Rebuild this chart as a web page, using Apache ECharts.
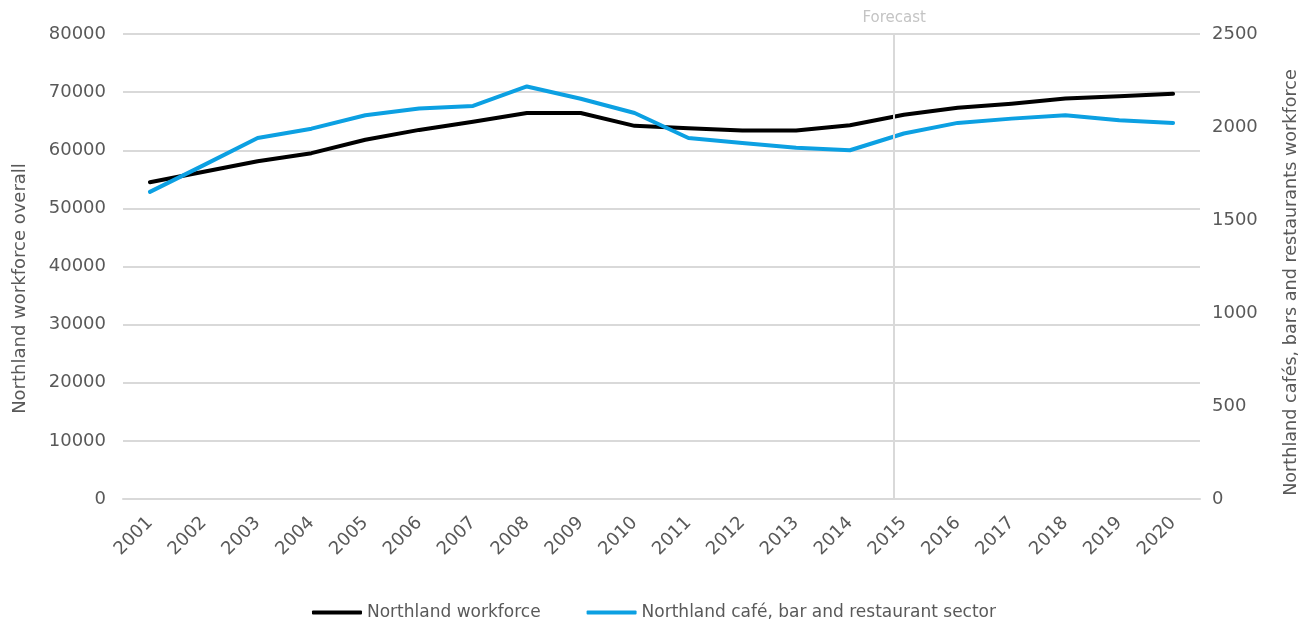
<!DOCTYPE html>
<html>
<head>
<meta charset="utf-8">
<title>Northland workforce</title>
<script src="https://cdn.jsdelivr.net/npm/echarts@6/dist/echarts.min.js"></script>
<style>
  html, body { margin: 0; padding: 0; background: #ffffff; }
  #chart { width: 1308px; height: 622px; }
</style>
</head>
<body>
<div id="chart"></div>
<script>
// Years shown on the category axis
const years = ['2001','2002','2003','2004','2005','2006','2007','2008','2009','2010',
               '2011','2012','2013','2014','2015','2016','2017','2018','2019','2020'];

// Total Northland workforce (left axis)
const workforce = [54500, 56300, 58100, 59500, 61800, 63500, 64900, 66400, 66400, 64200,
                   63800, 63400, 63400, 64300, 66100, 67300, 68000, 68900, 69300, 69700];

// Café, bar and restaurant sector workforce (right axis)
const hospitality = [1651, 1795, 1941, 1991, 2063, 2099, 2113, 2218, 2152, 2075,
                     1941, 1914, 1889, 1875, 1965, 2022, 2045, 2063, 2036, 2022];

// Position of the forecast divider along the year axis (in category units, 0 = left edge)
const forecastStart = 14.32;
const forecastLabel = 'Forecast';

const FONT = '"DejaVu Sans", "Open Sans", sans-serif';
const TEXT = '#595959';
const GRID = '#d9d9d9';

const plain = v => String(v);

const chart = echarts.init(document.getElementById('chart'), null, { renderer: 'canvas' });

chart.setOption({
  animation: false,
  textStyle: { fontFamily: FONT, color: TEXT },
  grid: { left: 123, right: 107, top: 34, bottom: 123, containLabel: false },
  legend: {
    top: 604,
    left: 'center',
    padding: [0, 5],
    itemWidth: 50,
    itemHeight: 4,
    itemGap: 46,
    icon: 'roundRect',
    textStyle: { fontFamily: FONT, fontSize: 17, color: TEXT },
    data: ['Northland workforce', 'Northland café, bar and restaurant sector']
  },
  xAxis: [
    {
      type: 'category',
      data: years,
      boundaryGap: true,
      axisLine: { show: true, lineStyle: { color: GRID, width: 2 } },
      axisTick: { show: false },
      axisLabel: { rotate: 45, fontSize: 18, color: TEXT, fontFamily: FONT, margin: 21, interval: 0 }
    },
    {
      type: 'value',
      min: 0,
      max: years.length,
      show: false
    }
  ],
  yAxis: [
    {
      type: 'value',
      min: 0, max: 80000, interval: 10000,
      name: 'Northland workforce overall',
      nameLocation: 'middle',
      nameGap: 94,
      nameRotate: 90,
      nameTextStyle: { fontSize: 18, color: TEXT, fontFamily: FONT, padding: [0, 44, 0, 0] },
      axisLine: { show: false },
      axisTick: { show: false },
      axisLabel: { fontSize: 18, color: TEXT, fontFamily: FONT, margin: 17, formatter: plain },
      splitLine: { show: true, lineStyle: { color: GRID, width: 2 } }
    },
    {
      type: 'value',
      min: 0, max: 2500, interval: 500,
      position: 'right',
      name: 'Northland cafés, bars and restaurants workforce',
      nameLocation: 'middle',
      nameGap: 82,
      nameRotate: 90,
      nameTextStyle: { fontSize: 17.6, color: TEXT, fontFamily: FONT, padding: [0, 32, 0, 0] },
      axisLine: { show: false },
      axisTick: { show: false },
      axisLabel: { fontSize: 18, color: TEXT, fontFamily: FONT, margin: 12, formatter: plain },
      splitLine: { show: false }
    }
  ],
  series: [
    {
      name: 'Northland workforce',
      type: 'line',
      xAxisIndex: 0,
      yAxisIndex: 0,
      data: workforce,
      symbol: 'none',
      lineStyle: { color: '#000000', width: 4, cap: 'round', join: 'round' },
      itemStyle: { color: '#000000' },
      z: 3
    },
    {
      name: 'Northland café, bar and restaurant sector',
      type: 'line',
      xAxisIndex: 0,
      yAxisIndex: 1,
      data: hospitality,
      symbol: 'none',
      lineStyle: { color: '#0ca0e2', width: 4, cap: 'round', join: 'round' },
      itemStyle: { color: '#0ca0e2' },
      z: 3
    },
    {
      // Carrier for the forecast divider
      name: 'forecast',
      type: 'line',
      xAxisIndex: 1,
      yAxisIndex: 0,
      data: [],
      z: 1,
      markLine: {
        silent: true,
        symbol: ['none', 'none'],
        lineStyle: { color: GRID, width: 2, type: 'solid' },
        label: {
          show: true,
          position: 'end',
          formatter: forecastLabel,
          color: '#c4c4c4',
          fontSize: 15,
          fontFamily: FONT,
          distance: 8
        },
        data: [{ xAxis: forecastStart }]
      }
    }
  ]
});
</script>
</body>
</html>
